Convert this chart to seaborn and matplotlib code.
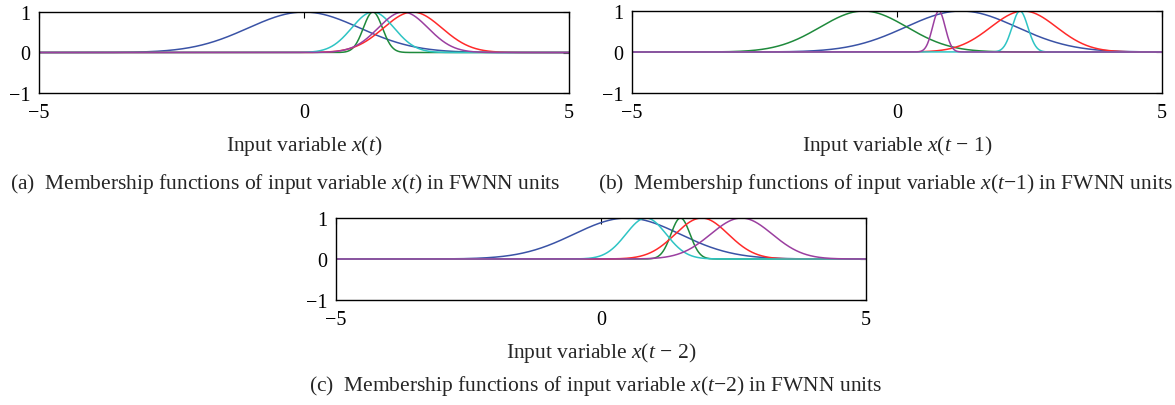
import numpy as np
import pandas as pd
import matplotlib
matplotlib.use("Agg")
import matplotlib.pyplot as plt
import seaborn as sns

# ---- data ----
mf_names = ["mf1", "mf2", "mf3", "mf4", "mf5"]
mf_colors = ["#3a53a6", "#1f8a3c", "#ff2a2a", "#2ec4c4", "#9b3fa0"]

# panel (a): x(t)
centers_a = [0.00, 1.30, 2.05, 1.30, 1.87]
sigmas_a = [1.05, 0.18, 0.55, 0.40, 0.47]
# panel (b): x(t-1)
centers_b = [1.21, -0.63, 2.39, 2.32, 0.79]
sigmas_b = [1.05, 0.82, 0.62, 0.15, 0.12]
# panel (c): x(t-2)
centers_c = [0.49, 1.50, 1.90, 0.85, 2.65]
sigmas_c = [1.00, 0.18, 0.50, 0.38, 0.58]

x_ticks = [-5, 0, 5]
y_ticks = [-1, 0, 1]
x_labels = ["Input variable $x(t)$", r"Input variable $x(t\,-\,1)$", r"Input variable $x(t\,-\,2)$"]
captions = [
    "(a)  Membership functions of input variable $x(t)$ in FWNN units",
    "(b)  Membership functions of input variable $x(t{-}1)$ in FWNN units",
    "(c)  Membership functions of input variable $x(t{-}2)$ in FWNN units",
]

sns.set_theme(style="white")
plt.rcParams["font.family"] = ["Liberation Serif", "DejaVu Serif"]
plt.rcParams["mathtext.fontset"] = "custom"
plt.rcParams["mathtext.rm"] = "Liberation Serif"
plt.rcParams["mathtext.it"] = "Liberation Serif:italic"
plt.rcParams["mathtext.bf"] = "Liberation Serif:bold"

W, H = 1175, 406
fig = plt.figure(figsize=(W / 100, H / 100), dpi=100)


def px_axes(left, top, right, bottom):
    return fig.add_axes([left / W, 1 - bottom / H, (right - left) / W, (bottom - top) / H])


xs = np.linspace(-5, 5, 1201)


def draw(ax, centers, sigmas, xlabel):
    frames = []
    for name, c, s in zip(mf_names, centers, sigmas):
        frames.append(pd.DataFrame({"x": xs, "mu": np.exp(-((xs - c) ** 2) / (2 * s ** 2)), "mf": name}))
    df = pd.concat(frames, ignore_index=True)
    sns.lineplot(data=df, x="x", y="mu", hue="mf", palette=dict(zip(mf_names, mf_colors)),
                 hue_order=mf_names, ax=ax, legend=False, linewidth=1.1, estimator=None)
    ax.set_xlim(-5, 5)
    ax.set_ylim(-1, 1)
    ax.set_xticks(x_ticks)
    ax.set_yticks(y_ticks)
    ax.tick_params(direction="in", length=4, width=0.8, top=True, right=True,
                   labelsize=14.5, colors="black")
    ax.tick_params(axis="x", pad=7)
    ax.tick_params(axis="y", pad=6)
    for sp in ax.spines.values():
        sp.set_color("black")
        sp.set_linewidth(1.0)
    ax.set_xlabel(xlabel, fontsize=15.5, labelpad=8)
    ax.set_ylabel("")
    ax.grid(False)


ax_a = px_axes(39, 13, 569, 94)
ax_b = px_axes(632, 12, 1162, 94)
ax_c = px_axes(336, 219, 866, 301)

draw(ax_a, centers_a, sigmas_a, x_labels[0])
draw(ax_b, centers_b, sigmas_b, x_labels[1])
draw(ax_c, centers_c, sigmas_c, x_labels[2])

fig.text(285 / W, 1 - 184 / H, captions[0], ha="center", va="center", fontsize=15.5)
fig.text(885 / W, 1 - 184 / H, captions[1], ha="center", va="center", fontsize=15.5)
fig.text(596 / W, 1 - 386 / H, captions[2], ha="center", va="center", fontsize=15.5)

fig.savefig("out.png", dpi=100, facecolor="white")
